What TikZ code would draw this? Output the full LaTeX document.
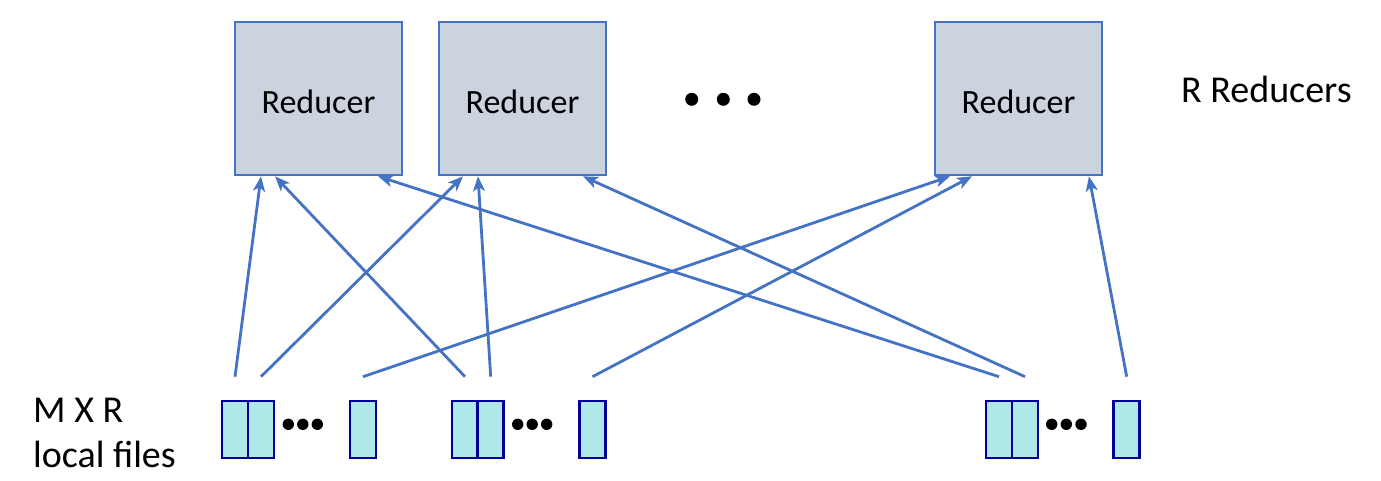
\documentclass[tikz,border=0pt]{standalone}
\usepackage{fontspec}
\setmainfont{Carlito}
\usetikzlibrary{arrows.meta,calc}
\definecolor{lineblue}{HTML}{4472C4}
\definecolor{redfill}{HTML}{CBD3DE}
\definecolor{filefill}{HTML}{AEE8E8}
\definecolor{filenavy}{HTML}{000099}
\tikzset{
  reducer/.style={draw=lineblue, fill=redfill, line width=2.6pt, minimum width=167pt, minimum height=153pt, inner sep=0pt, text height=31pt, text depth=0pt, font=\fontsize{34}{40}\selectfont},
  filebox/.style={draw=filenavy, fill=filefill, line width=2.6pt, minimum width=26pt, minimum height=57pt, inner sep=0pt},
  conn/.style={draw=lineblue, line width=2.8pt, -{Stealth[length=15pt,width=12pt,inset=4pt]}},
  lbl/.style={inner sep=0pt, anchor=base west, font=\fontsize{38}{45}\selectfont},
  dotmark/.style={fill=black}
}
\begin{document}
\begin{tikzpicture}[x=1pt,y=-1pt]
\useasboundingbox (0,0) rectangle (1381,481);
% reducers
\node[reducer] (r1) at (318.5,98.5) {Reducer};
\node[reducer] (r2) at (522.5,98.5) {Reducer};
\node[reducer] (r3) at (1018.5,98.5) {Reducer};
% dots between reducers
\fill[dotmark] (691.7,99.3) circle (6.5);
\fill[dotmark] (723.3,99.3) circle (6.5);
\fill[dotmark] (754,99.3) circle (6.5);
% labels
\node[lbl] (rlab) at (1181,103) {R Reducers};
\node[lbl] (mlab1) at (33,422) {M X R};
\node[lbl] (mlab2) at (33,467) {local files};
% files
\node[filebox] (f1) at (235,429.5) {};
\node[filebox] (f2) at (261,429.5) {};
\node[filebox] (f3) at (363,429.5) {};
\node[filebox] (f4) at (465,429.5) {};
\node[filebox] (f5) at (490.7,429.5) {};
\node[filebox] (f6) at (592.5,429.5) {};
\node[filebox] (f7) at (999,429.5) {};
\node[filebox] (f8) at (1025,429.5) {};
\node[filebox] (f9) at (1126.7,429.5) {};
% small dots
\foreach \x in {288.3,302.8,317.3, 517.7,532.2,546.7, 1051.7,1066.3,1081}
  \fill[dotmark] (\x,424.3) circle (5.7);
% start coordinates above files
\foreach \i in {1,...,9}
  \coordinate (s\i) at ($(f\i.north)+(0,-23)$);
% connectors
\draw[conn] (s1) -- ([xshift=-57.5pt]r1.south);
\draw[conn] (s2) -- ([xshift=-59.5pt]r2.south);
\draw[conn] (s3) -- ([xshift=-68.5pt]r3.south);
\draw[conn] (s4) -- ([xshift=-43.5pt]r1.south);
\draw[conn] (s5) -- ([xshift=-44.5pt]r2.south);
\draw[conn] (s6) -- ([xshift=-46.5pt]r3.south);
\draw[conn] (s7) -- ([xshift=59.5pt]r1.south);
\draw[conn] (s8) -- ([xshift=60.5pt]r2.south);
\draw[conn] (s9) -- ([xshift=70.5pt]r3.south);
\end{tikzpicture}
\end{document}
